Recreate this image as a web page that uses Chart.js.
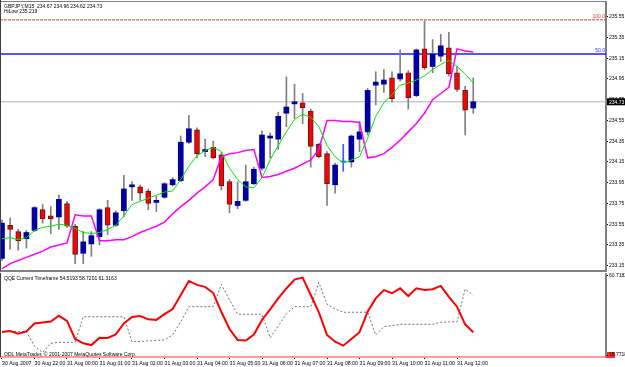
<!DOCTYPE html>
<html>
<head>
<meta charset="utf-8">
<title>GBPJPY,M15</title>
<script src="https://cdn.jsdelivr.net/npm/chart.js@4.4.1/dist/chart.umd.min.js"></script>
<style>
html,body{margin:0;padding:0;background:#ffffff;}
#wrap{position:relative;width:625px;height:367px;overflow:hidden;background:#fff;}
#main{position:absolute;left:0;top:0;}
#qqe{position:absolute;left:0;top:273px;}
</style>
</head>
<body>
<div id="wrap">
<canvas id="main" width="625" height="273" style="width:625px;height:273px"></canvas>
<canvas id="qqe" width="625" height="94" style="width:625px;height:94px"></canvas>
</div>
<script>
// ---------- texts ----------
const symbolTitle = 'GBPJPY,M15  234.67 234.96 234.62 234.73';
const hiLowTitle = 'HiLow 235.219';
const qqeTitle = 'QQE Current Timeframe 54.5193 58.7201 61.3163';
const copyrightText = 'ODL MetaTrader, \u00A9 2001-2007 MetaQuotes Software Corp.';

// ---------- time axis ----------
const timeLabels = ['30 Aug 2007','30 Aug 22:00','31 Aug 00:00','31 Aug 01:00','31 Aug 02:00','31 Aug 03:00','31 Aug 04:00','31 Aug 05:00','31 Aug 06:00','31 Aug 07:00','31 Aug 08:00','31 Aug 09:00','31 Aug 10:00','31 Aug 11:00','31 Aug 12:00'];
const timeTickBars = [0,4,8,12,16,20,24,28,32,36,40,44,48,52,56];

// ---------- candles (M15) ----------
const opens  = [233.22,233.54,233.48,233.41,233.49,233.69,233.63,233.62,233.75,233.53,
                233.27,233.36,233.43,233.71,233.54,233.68,233.91,233.91,233.87,233.76,
                233.81,233.93,233.97,234.34,234.46,234.25,234.29,234.22,233.96,233.73,
                233.78,233.94,234.09,234.38,234.37,234.62,234.71,234.72,234.64,234.32,
                234.23,233.93,234.15,234.15,234.37,234.44,234.89,234.90,234.96,234.95,
                235.01,234.79,235.24,235.07,235.17,235.25,235.01,234.84,234.67];
const highs  = [233.59,233.61,233.50,233.49,233.72,233.74,233.72,233.83,233.77,233.55,
                233.48,233.48,233.70,233.78,233.68,234.02,233.96,233.93,233.89,233.82,
                233.95,234.00,234.40,234.60,234.48,234.37,234.35,234.24,233.98,233.96,
                234.12,234.10,234.45,234.43,234.63,234.97,234.90,234.81,234.66,234.33,
                234.25,234.14,234.32,234.41,234.54,234.86,235.02,235.04,235.02,235.23,
                235.03,235.24,235.51,235.33,235.38,235.40,235.07,234.88,234.96];
const lows   = [233.20,233.31,233.30,233.32,233.48,233.56,233.46,233.50,233.52,233.17,
                233.17,233.24,233.35,233.45,233.53,233.62,233.78,233.78,233.69,233.67,
                233.80,233.92,233.96,234.33,234.19,234.20,234.18,233.88,233.66,233.70,
                233.77,233.93,234.07,234.19,234.27,234.49,234.57,234.52,234.10,234.19,
                233.73,233.85,234.06,234.10,234.25,234.41,234.70,234.82,234.73,234.93,
                234.66,234.78,235.04,235.01,235.12,234.98,234.83,234.41,234.62];
const closes = [233.56,233.50,233.39,233.47,233.71,233.60,233.60,233.79,233.53,233.26,
                233.38,233.44,233.69,233.54,233.66,233.89,233.93,233.85,233.75,233.78,
                233.94,233.98,234.34,234.47,234.23,234.27,234.19,233.92,233.74,233.77,
                233.96,234.08,234.41,234.40,234.59,234.68,234.73,234.67,234.30,234.20,
                233.94,234.12,234.15,234.40,234.44,234.84,234.92,234.94,234.76,235.00,
                234.77,235.23,235.06,235.19,235.27,235.00,234.85,234.65,234.73];

// ---------- overlays ----------
const fastMA = [233.41,233.42,233.40,233.42,233.49,233.52,233.53,233.55,233.54,233.51,
                233.47,233.46,233.47,233.50,233.54,233.63,233.74,233.77,233.80,233.83,
                233.86,233.87,233.98,234.11,234.21,234.26,234.29,234.25,234.09,233.98,
                233.91,233.90,234.00,234.17,234.31,234.44,234.56,234.61,234.58,234.49,
                234.31,234.20,234.14,234.17,234.20,234.38,234.59,234.72,234.80,234.89,
                234.91,234.94,234.98,235.04,235.09,235.13,235.07,235.00,234.91];
const hiLow  = [233.12,233.17,233.20,233.23,233.26,233.29,233.33,233.35,233.37,233.64,
                233.63,233.63,233.39,233.39,233.40,233.40,233.43,233.47,233.50,233.53,
                233.57,233.65,233.72,233.78,233.85,233.91,233.98,234.20,234.23,234.24,
                234.26,234.27,234.00,234.01,234.03,234.06,234.09,234.13,234.17,234.27,
                234.55,234.55,234.54,234.54,234.53,234.19,234.20,234.23,234.29,234.36,
                234.44,234.52,234.62,234.75,234.81,234.87,235.24,235.22,235.21];
const fibLevels = [235.52, 235.19];
const fibLabels = ['100.0', '50.0'];
const bidPrice = 234.73;
const priceTicks = [235.55,235.35,235.15,234.95,234.75,234.55,234.35,234.15,233.95,233.75,233.55,233.35,233.15];

// ---------- QQE sub-window ----------
const qqeRsi   = [31.4,31.9,30.6,31.7,35.7,36.2,36.7,39.6,37.0,27.9,
                  25.7,24.8,28.5,28.4,30.2,35.7,39.0,39.5,37.8,37.5,
                  40.4,43.0,50.1,57.2,55.2,54.2,51.1,41.5,32.9,27.4,
                  27.1,30.1,37.5,42.8,48.4,53.4,57.9,58.9,50.1,41.3,
                  29.9,26.5,24.5,27.9,31.3,41.7,48.4,52.6,51.0,53.5,
                  49.6,53.5,52.6,53.0,54.7,49.2,44.2,35.3,31.3];
const qqeTrail = [31.6,31.6,31.6,31.6,24.3,21.0,25.7,26.2,26.2,26.2,
                  39.1,39.1,39.1,39.1,39.1,39.1,26.5,26.6,26.9,27.1,
                  27.4,29.9,36.5,44.2,44.2,44.2,44.2,55.5,47.6,40.4,
                  40.4,40.4,40.4,28.5,34.4,40.5,44.2,44.2,44.2,56.5,
                  45.4,43.0,41.4,41.4,41.4,41.4,29.9,34.1,34.7,35.3,
                  35.3,35.3,35.3,35.3,36.3,36.5,36.6,53.1,50.1];
const qqeAxisValues = [59.71, 19.78];
const qqeAxisLabels = ['60.7182', '18.7718'];

// ---------- rendering ----------
const FONT = '"Liberation Sans", Arial, Helvetica, sans-serif';
const X_MIN = -0.246, X_MAX = 74.338;
const idx = opens.map((_, i) => i);
const pt = arr => arr.map((v, i) => ({x: i, y: v}));
const span = v => [{x: X_MIN, y: v}, {x: X_MAX, y: v}];
const dir = idx.map(i => closes[i] > opens[i] ? 1 : (closes[i] < opens[i] ? -1 : 0));
const UP = '#0000a0', DN = '#ff0000', DOJI = '#3a5cff', WICK = '#808080';

const mainFrame = {
  id: 'mainFrame',
  afterDraw(chart) {
    const {ctx, chartArea: a, scales: {y}} = chart;
    ctx.save();
    ctx.fillStyle = '#808080';
    ctx.fillRect(0, 1, a.right, 1);
    ctx.fillRect(0, a.bottom - 1, a.right + 1, 2);
    ctx.fillStyle = '#404040';
    ctx.fillRect(0, 0, 1, a.bottom);
    ctx.font = '5px ' + FONT;
    ctx.fillStyle = '#000';
    ctx.textAlign = 'left';
    ctx.textBaseline = 'alphabetic';
    ctx.fillText(symbolTitle, 4, 7.5);
    ctx.fillText(hiLowTitle, 4, 12.5);
    ctx.textAlign = 'right';
    ctx.textBaseline = 'bottom';
    fibLevels.forEach((lv, k) => {
      ctx.fillStyle = k === 0 ? '#e03030' : '#2020ff';
      ctx.fillText(fibLabels[k], a.right - 1, y.getPixelForValue(lv) - 0.5);
    });
    const by = y.getPixelForValue(bidPrice);
    ctx.fillStyle = '#000';
    ctx.fillRect(a.right + 1, by - 3.5, chart.width - a.right - 1, 7);
    ctx.fillStyle = '#fff';
    ctx.textAlign = 'left';
    ctx.textBaseline = 'middle';
    ctx.fillText(bidPrice.toFixed(2), a.right + 3, by + 0.5);
    ctx.restore();
  }
};

new Chart(document.getElementById('main'), {
  type: 'bar',
  data: {
    datasets: [
      {type: 'line', data: span(bidPrice), borderColor: '#aab0c6', borderWidth: 1, pointRadius: 0, order: 20},
      {type: 'line', data: span(fibLevels[0]), borderColor: '#e23b3b', borderWidth: 1, borderDash: [3, 1], pointRadius: 0, order: 19},
      {type: 'line', data: span(fibLevels[1]), borderColor: '#1c1cff', borderWidth: 1.5, pointRadius: 0, order: 18},
      {type: 'bar', data: idx.map(i => ({x: i, y: [lows[i], highs[i]]})),
        backgroundColor: idx.map(i => dir[i] === 0 ? DOJI : WICK), barThickness: 1, grouped: false, order: 6},
      {type: 'bar', data: idx.map(i => ({x: i, y: [opens[i], closes[i]]})),
        backgroundColor: idx.map(i => dir[i] > 0 ? UP : (dir[i] < 0 ? DN : DOJI)),
        borderColor: '#5a1a1a', borderWidth: idx.map(i => dir[i] < 0 ? 1 : 0), borderSkipped: false,
        barThickness: 5, minBarLength: 1, grouped: false, order: 5},
      {type: 'line', data: pt(hiLow), borderColor: '#ff00ff', borderWidth: 1.5, pointRadius: 0, tension: 0, order: 2},
      {type: 'line', data: pt(fastMA), borderColor: '#00e600', borderWidth: 1, pointRadius: 0, tension: 0, order: 1}
    ]
  },
  options: {
    responsive: false, animation: false, devicePixelRatio: 1,
    layout: {padding: {top: 2, bottom: 2, left: 0, right: 0}},
    plugins: {legend: {display: false}, tooltip: {enabled: false}},
    scales: {
      x: {type: 'linear', min: X_MIN, max: X_MAX, offset: false, display: false, grid: {display: false}},
      y: {type: 'linear', position: 'right', min: 233.099, max: 235.692,
        afterBuildTicks: s => { s.ticks = priceTicks.map(v => ({value: v})); },
        afterFit: s => { s.width = 19; s.paddingTop = 0; s.paddingBottom = 0; },
        ticks: {font: {family: FONT, size: 5}, color: '#000', padding: 1, callback: v => Number(v).toFixed(2)},
        grid: {drawOnChartArea: false, tickLength: 2, color: '#000'},
        border: {display: true, color: '#808080', width: 2}
      }
    }
  },
  plugins: [mainFrame]
});

const qqeFrame = {
  id: 'qqeFrame',
  beforeDraw(chart) {
    const {ctx, chartArea: a, scales: {y}} = chart;
    ctx.save();
    ctx.fillStyle = '#ff2a2a';
    const py = y.getPixelForValue(qqeAxisValues[1]);
    ctx.fillRect(a.right + 1, py - 3, 8, 6);
    ctx.restore();
  },
  afterDraw(chart) {
    const {ctx, chartArea: a} = chart;
    ctx.save();
    ctx.fillStyle = '#404040';
    ctx.fillRect(0, 0, 1, a.bottom);
    ctx.font = '5px ' + FONT;
    ctx.fillStyle = '#000';
    ctx.textAlign = 'left';
    ctx.textBaseline = 'alphabetic';
    ctx.fillText(qqeTitle, 4, 6.5);
    ctx.fillText(copyrightText, 4, a.bottom - 1.5);
    ctx.restore();
  }
};

new Chart(document.getElementById('qqe'), {
  type: 'line',
  data: {
    datasets: [
      {data: pt(qqeTrail), borderColor: '#707070', borderWidth: 1, borderDash: [2, 2], pointRadius: 0, tension: 0, order: 2},
      {data: pt(qqeRsi), borderColor: '#ff0000', borderWidth: 2, pointRadius: 0, tension: 0, order: 1}
    ]
  },
  options: {
    responsive: false, animation: false, devicePixelRatio: 1,
    layout: {padding: {top: 1, bottom: 0, left: 0, right: 0}},
    plugins: {legend: {display: false}, tooltip: {enabled: false}},
    scales: {
      x: {type: 'linear', min: X_MIN, max: X_MAX, offset: false, position: 'bottom',
        afterBuildTicks: s => { s.ticks = timeTickBars.map(v => ({value: v})); },
        afterFit: s => { s.height = 10; s.paddingLeft = 0; s.paddingRight = 0; },
        ticks: {autoSkip: false, maxRotation: 0, minRotation: 0, align: 'start', padding: 1,
          font: {family: FONT, size: 5.2}, color: '#000', callback: (v, i) => timeLabels[i]},
        grid: {drawOnChartArea: false, tickLength: 2, color: '#000'},
        border: {display: true, color: '#ff9c9c', width: 2}
      },
      y: {type: 'linear', position: 'right', min: 18.77, max: 60.72,
        afterBuildTicks: s => { s.ticks = qqeAxisValues.map(v => ({value: v})); },
        afterFit: s => { s.width = 19; s.paddingTop = 0; s.paddingBottom = 0; },
        ticks: {font: {family: FONT, size: 5}, color: '#000', padding: 1, callback: (v, i) => qqeAxisLabels[i]},
        grid: {drawOnChartArea: false, tickLength: 2, color: '#000'},
        border: {display: true, color: '#808080', width: 2}
      }
    }
  },
  plugins: [qqeFrame]
});
</script>
</body>
</html>
